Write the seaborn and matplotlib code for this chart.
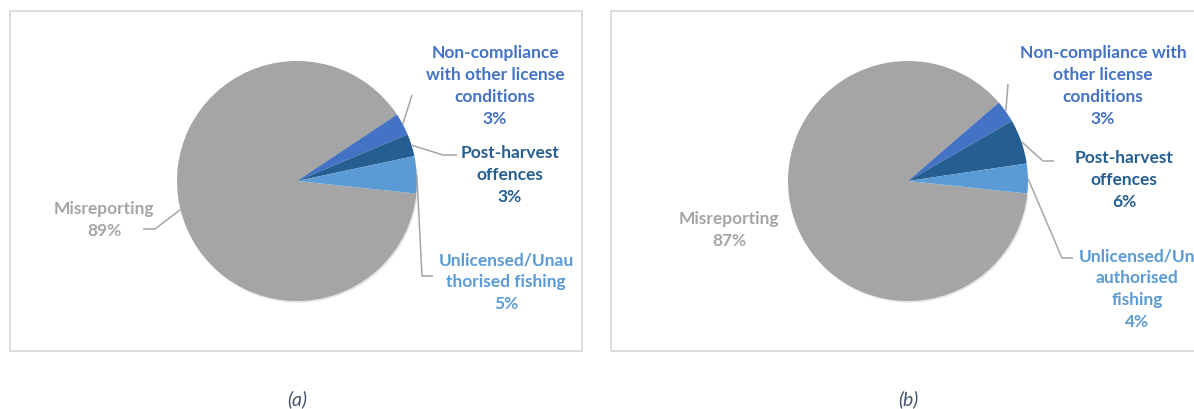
import matplotlib.pyplot as plt
from matplotlib.patches import Rectangle
import matplotlib.patheffects as pe
import numpy as np
import seaborn as sns

# data
categories = ['Misreporting', 'Non-compliance with other license conditions',
              'Post-harvest offences', 'Unlicensed/Unauthorised fishing']
share_a = [89, 3, 3, 5]
share_b = [87, 3, 6, 4]
labels_a = ['Misreporting', 'Non-compliance\nwith other license\nconditions',
            'Post-harvest\noffences', 'Unlicensed/Unau\nthorised fishing']
labels_b = ['Misreporting', 'Non-compliance with\nother license\nconditions',
            'Post-harvest\noffences', 'Unlicensed/Un\nauthorised\nfishing']
captions = ['(a)', '(b)']

colors = ['#A5A5A5', '#4472C4', '#255E91', '#5B9BD5']
line_color = '#A6A6A6'

sns.set_theme(style='white')
plt.rcParams['font.family'] = ['Lato', 'DejaVu Sans']

W, H = 1194, 410
fig = plt.figure(figsize=(W / 100, H / 100), dpi=100)
ax = fig.add_axes([0, 0, 1, 1])

# layout in pixel coords (y from top)
layout = [
    dict(box=(10, 12, 572, 340), center=(297, 182), caption=(297, 399),
         text=[(104, 220), (495, 86), (510, 175), (506, 282)],
         elbows=[[(155, 230), (143, 230)], [(412, 96)],
                 [(443, 156), (457, 156)], [(422, 277), (433, 277)]]),
    dict(box=(611, 12, 700, 340), center=(908, 182), caption=(908, 399),
         text=[(729, 230), (1103, 86), (1124, 180), (1137, 289)],
         elbows=[None, [(1008, 85)],
                 [(1043, 162), (1054, 162)], [(1062, 259), (1073, 259)]]),
]
R = 120
shadow = [pe.SimplePatchShadow(offset=(0.8, -1.2), shadow_rgbFace='black', alpha=0.10),
          pe.Normal()]

for vals, labs, cap, lay in zip([share_a, share_b], [labels_a, labels_b], captions, layout):
    bx, by, bw, bh = lay['box']
    ax.add_patch(Rectangle((bx, H - by - bh), bw, bh, fill=False,
                           edgecolor='#D9D9D9', lw=1.3))
    cx, cy = lay['center'][0], H - lay['center'][1]
    wedges, _ = ax.pie(vals, colors=colors, startangle=-6, counterclock=False,
                       radius=R, center=(cx, cy), frame=True,
                       wedgeprops=dict(linewidth=0))
    wedges[0].set_path_effects(shadow)
    for i, w in enumerate(wedges):
        el = lay['elbows'][i]
        if el is not None:
            t = np.deg2rad((w.theta1 + w.theta2) / 2)
            xs = [cx + R * np.cos(t)] + [p[0] for p in el]
            ys = [cy + R * np.sin(t)] + [H - p[1] for p in el]
            ax.plot(xs, ys, color=line_color, lw=1.1, solid_capstyle='butt')
        tx, ty = lay['text'][i]
        ax.text(tx, H - ty, f'{labs[i]}\n{vals[i]}%', ha='center', va='center',
                multialignment='center', color=colors[i], fontsize=12.5,
                fontweight='bold', linespacing=1.45)
    px, py = lay['caption']
    ax.text(px, H - py, cap, ha='center', va='center', style='italic',
            fontsize=14, color='#44546A')

ax.set_xlim(0, W)
ax.set_ylim(0, H)
ax.set_aspect('auto')
ax.axis('off')

fig.savefig('out.png', dpi=100)
